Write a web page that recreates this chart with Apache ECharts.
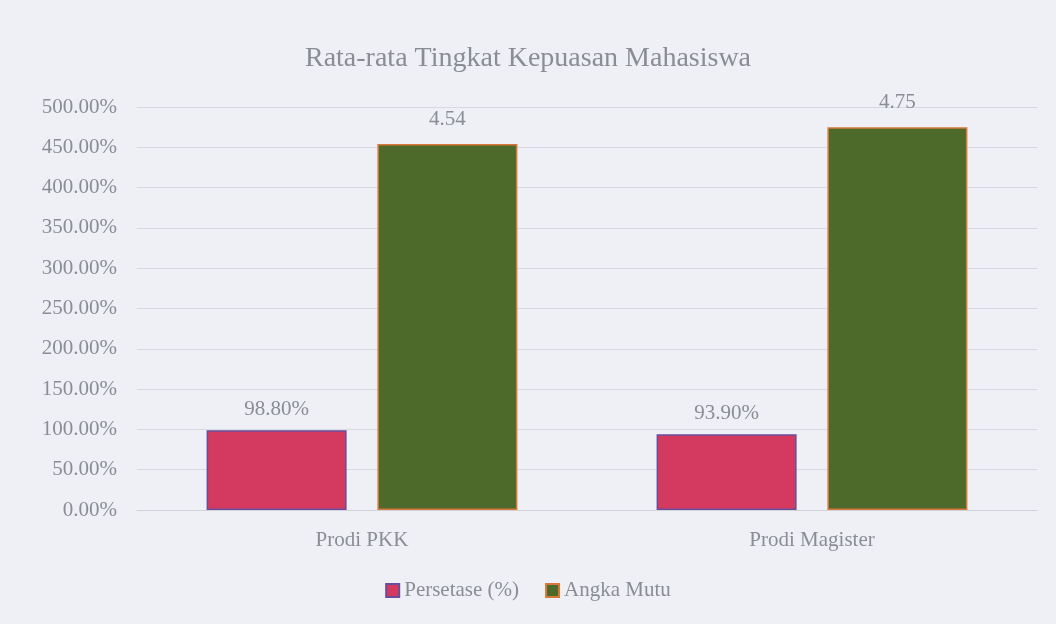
<!DOCTYPE html>
<html>
<head>
<meta charset="utf-8">
<script src="https://cdn.jsdelivr.net/npm/echarts@6/dist/echarts.min.js"></script>
<style>
  html, body { margin: 0; padding: 0; background: #eef0f5; }
  #chart { width: 1056px; height: 624px; }
</style>
</head>
<body>
<div id="chart"></div>
<script>
const categories = ['Prodi PKK', 'Prodi Magister']
const persentase = [0.988, 0.939]
const angkaMutu = [4.54, 4.75]
const seriesNames = ['Persetase (%)', 'Angka Mutu']

const textColor = '#8a8d94'
const font = '"Liberation Serif", "DejaVu Serif", serif'

const chart = echarts.init(document.getElementById('chart'))

chart.setOption({
  backgroundColor: '#eef0f5',
  textStyle: { fontFamily: font },
  title: {
    text: 'Rata-rata Tingkat Kepuasan Mahasiswa',
    left: 'center',
    top: 40,
    textStyle: { color: textColor, fontSize: 28, fontWeight: 'normal', fontFamily: font }
  },
  legend: {
    bottom: 18,
    left: 'center',
    itemWidth: 13,
    itemHeight: 13,
    itemGap: 26,
    icon: 'rect',
    textStyle: { color: textColor, fontSize: 21, fontFamily: font },
    data: seriesNames
  },
  grid: { left: 137, right: 19, top: 107, bottom: 114 },
  xAxis: {
    type: 'category',
    data: categories,
    axisTick: { show: false },
    axisLine: { lineStyle: { color: '#cfd2d9' } },
    axisLabel: { color: textColor, fontSize: 21, margin: 20, fontFamily: font }
  },
  yAxis: {
    type: 'value',
    min: 0,
    max: 5,
    interval: 0.5,
    axisLine: { show: false },
    axisTick: { show: false },
    splitLine: { lineStyle: { color: '#d6d9e0' } },
    axisLabel: {
      color: textColor,
      fontSize: 21,
      margin: 20,
      fontFamily: font,
      formatter: v => (v * 100).toFixed(2) + '%'
    }
  },
  series: [
    {
      name: seriesNames[0],
      type: 'bar',
      data: persentase,
      barWidth: 140,
      barGap: '22%',
      itemStyle: { color: '#d43a5f', borderColor: '#6a4b9c', borderWidth: 1.5 },
      label: {
        show: true,
        position: 'top',
        distance: 10,
        color: textColor,
        fontSize: 21,
        fontFamily: font,
        formatter: p => (p.value * 100).toFixed(2) + '%'
      }
    },
    {
      name: seriesNames[1],
      type: 'bar',
      data: angkaMutu,
      barWidth: 140,
      itemStyle: { color: '#4d6a2b', borderColor: '#d8773a', borderWidth: 1.5 },
      label: {
        show: true,
        position: 'top',
        distance: 14,
        color: textColor,
        fontSize: 21,
        fontFamily: font,
        formatter: p => p.value.toFixed(2)
      }
    }
  ]
})
</script>
</body>
</html>
